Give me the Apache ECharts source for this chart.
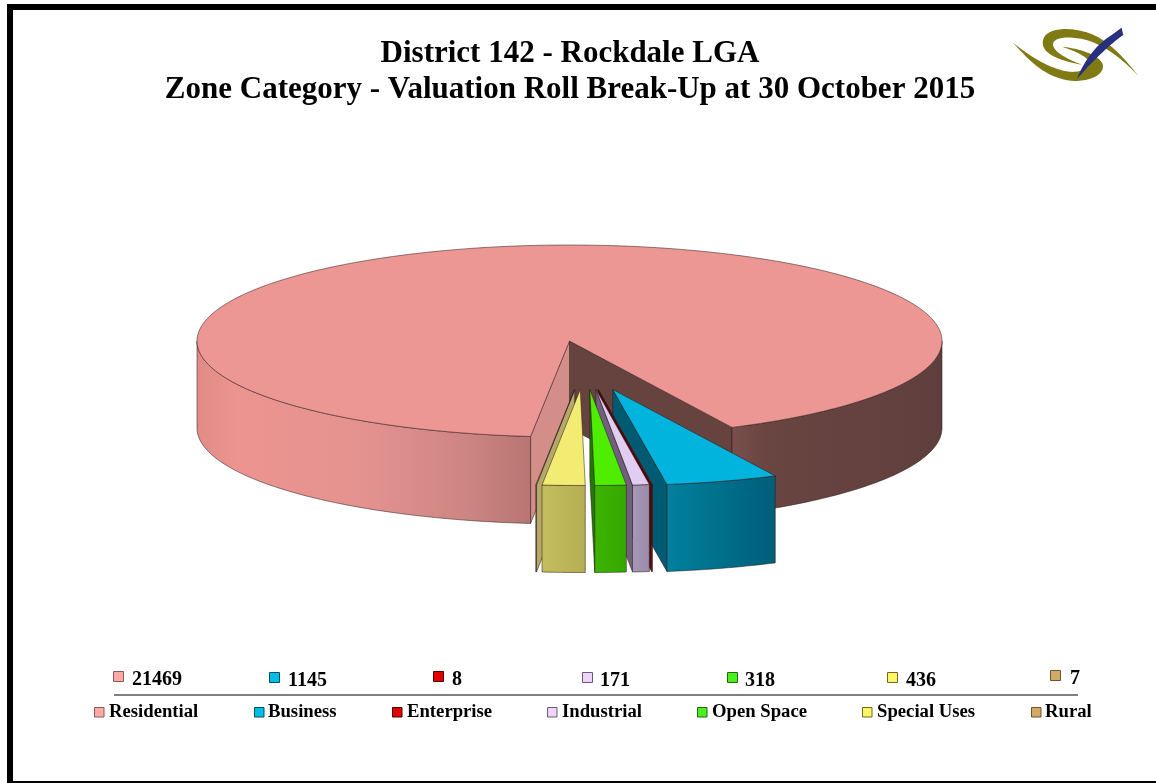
<!DOCTYPE html>
<html><head><meta charset="utf-8">
<style>html,body{margin:0;padding:0;background:#fff}#c{width:1156px;height:783px}</style>
<script src="https://cdn.jsdelivr.net/npm/echarts@6/dist/echarts.min.js"></script>
</head><body><div id="c"></div>
<script>
// ---- data ----
const categories = ['Residential','Business','Enterprise','Industrial','Open Space','Special Uses','Rural'];
const counts = [21469,1145,8,171,318,436,7];
const titleLines = ['District 142 - Rockdale LGA','Zone Category - Valuation Roll Break-Up at 30 October 2015'];

// ---- styles ----
const legendColors = ['#ffa9a6','#00bfe6','#e00000','#eed4fa','#4df01c','#fdf566','#d2aa68'];
const legendBorders = ['#8a5a5a','#0a4a5c','#500000','#6a5a78','#1f6a10','#6e6a20','#6a5530'];
const topColors = ['#ec9794','#00b4de','#c80000','#e2cdf2','#4fee00','#f2ec72','#c8ad6a'];
const wallA = ['#ea9490','#00809e','#900000','#a898b8','#3cb400','#c4be5e','#b0a468'];
const wallB = ['#b97672','#005e78','#600000','#988aa8','#36a800','#b4ae52','#a89c60'];
const cutLow = ['#d38e89','#005a72','#600000','#70607e','#227a00','#8a8640','#b5a868'];
const cutHigh = ['#67433f','#005a72','#5a0000','#70607e','#227a00','#8a8640','#a89a60'];
const valueLegendX = [113,269,433,582,727,887,1050];
const valueLegendY = [671,672,671,672,672,672,670];
const valueTextX = [132,288,452,600,745,906,1070];
const nameLegendX = [94,254,392,547,697,862,1031];
const nameTextX = [109,268,407,562,712,877,1045];

const cx = 569.5, cy = 341, rx = 372.5, ry = 96, depth = 87;
const startAngle = 354;     // where the first slice begins, degrees from straight down
const total = counts.reduce((a,b)=>a+b,0);
const drawOrder = [0,1,2,3,4,6,5];

// slice angular extents: clockwise on screen means decreasing angle
const spans = []; let acc = startAngle;
counts.forEach(v => { const s = v/total*360; spans.push([acc, acc-s]); acc -= s; });
const rad = d => d*Math.PI/180;
function offset(i){
  if(i===0) return [0,0];
  const mid = (spans[i][0]+spans[i][1])/2;
  return [15+1.65*mid, 48.5];
}
function pt(d,off,dz){ return [cx+off[0]+rx*Math.sin(rad(d)), cy+off[1]+ry*Math.cos(rad(d))+(dz||0)]; }
function arc(a,b,off,dz){
  const n=Math.max(1,Math.ceil(Math.abs(a-b))), out=[];
  for(let k=0;k<=n;k++) out.push(pt(a+(b-a)*k/n,off,dz));
  return out;
}
function poly(points,fill,z2,stroke){
  return {type:'polygon',z2,shape:{points},style:{fill,stroke:stroke||'rgba(40,25,25,0.65)',lineWidth:0.8,lineJoin:'round'},silent:true};
}
function grad(x0,x1,stops){
  return {type:'linear',x:x0,y:0,x2:x1,y2:0,global:true,colorStops:stops};
}
function renderSlice(params,api){
  const i = api.value(0), rank = params.dataIndex*10+10;
  const off = offset(i), [a,b] = spans[i];
  const c = [cx+off[0],cy+off[1]];
  const cd = [c[0],c[1]+depth];
  const ch = [];
  const pa = pt(a,off), pb = pt(b,off);
  // the two cut walls; on a detached slice a wall turned away from the viewer is not drawn
  if(i===0 || Math.sin(rad(b))>0) ch.push(poly([c,pb,[pb[0],pb[1]+depth],cd],cutHigh[i],rank));
  if(i===0 || Math.sin(rad(a))<0) ch.push(poly([c,pa,[pa[0],pa[1]+depth],cd],cutLow[i],rank+1));
  // rim, front half only
  const rims = i===0 ? [[270,a],[b,90]] : [[a,b]];
  rims.forEach((r,k)=>{
    const lo=Math.min(r[0],r[1]), hi=Math.max(r[0],r[1]);
    const top=arc(hi,lo,off), bot=arc(lo,hi,off,depth);
    const xs=top.map(p=>p[0]); const x0=Math.min(...xs), x1=Math.max(...xs);
    let fill;
    if(i===0 && k===0) fill=grad(x0,x1,[{offset:0,color:'#e08b86'},{offset:.12,color:'#ec9490'},{offset:.5,color:'#e49290'},{offset:.8,color:'#cd8683'},{offset:1,color:'#b87571'}]);
    else if(i===0) fill=grad(x0,x1,[{offset:0,color:'#7a4f4c'},{offset:.15,color:'#6a4542'},{offset:1,color:'#5f3f3d'}]);
    else fill=grad(x0,x1,[{offset:0,color:wallA[i]},{offset:1,color:wallB[i]}]);
    ch.push(poly(top.concat(bot),fill,rank+2));
  });
  // top face
  const face = arc(a,b,off); face.push(c);
  ch.push(poly(face,topColors[i],rank+3));
  return {type:'group',children:ch};
}

// ---- decorations built from the arrays ----
const graphics = [];
const sq=(x,y,s,fill,stroke)=>({type:'rect',shape:{x,y,width:s,height:s},style:{fill,stroke,lineWidth:1},silent:true});
const txt=(text,x,y,font,align)=>({type:'text',style:{text,x,y,font,fill:'#000',align:align||'left',verticalAlign:'alphabetic'},silent:true});
categories.forEach((name,i)=>{
  graphics.push(sq(valueLegendX[i]+.5,valueLegendY[i]+.5,10,legendColors[i],legendBorders[i]));
  graphics.push(txt(String(counts[i]),valueTextX[i],valueLegendY[i]-1.5,'bold 20px "Liberation Serif"'));
  graphics.push(sq(nameLegendX[i]+.5,707.5,9.5,legendColors[i],legendBorders[i]));
  graphics.push(txt(name,nameTextX[i],703,'bold 18.7px "Liberation Serif"'));
});
titleLines.forEach((t,i)=>graphics.push(txt(t,570,38+i*36,'bold 31px "Liberation Serif"','center')));
graphics.push({type:'line',shape:{x1:114,y1:695,x2:1078,y2:695},style:{stroke:'#555',lineWidth:1.4},silent:true});
// page frame
[[7,4,6,779],[7,4,1149,6],[7,781,1149,2]].forEach(r=>graphics.push({type:'rect',shape:{x:r[0],y:r[1],width:r[2],height:r[3]},style:{fill:'#000'},silent:true}));
// logo: closed outlines of cubic curves, [start, c1, c2, end, c1, c2, end ...]
function curve(pts){
  const out=[];
  for(let s=0;s+3<pts.length;s+=3){
    for(let k=0;k<=24;k++){
      const t=k/24,u=1-t,P=[pts[s],pts[s+1],pts[s+2],pts[s+3]];
      const w=[u*u*u,3*u*u*t,3*u*t*t,t*t*t];
      out.push([980+(w[0]*P[0][0]+w[1]*P[1][0]+w[2]*P[2][0]+w[3]*P[3][0])/3,(w[0]*P[0][1]+w[1]*P[1][1]+w[2]*P[2][1]+w[3]*P[3][1])/3]);
    }
  }
  return out;
}
const logo=(pts,fill)=>({type:'polygon',shape:{points:curve(pts)},style:{fill},silent:true});
graphics.push(logo([[475,228],[430,170],[380,115],[320,97],[270,82],[210,82],[192,112],[175,150],[215,178],[305,194],[255,175],[212,150],[220,128],[228,108],[285,108],[335,125],[385,145],[430,180],[475,228]],'#7f7a14'));
graphics.push(logo([[98,128],[140,170],[190,238],[285,243],[340,243],[378,218],[367,190],[352,163],[300,146],[245,140],[290,155],[325,170],[328,192],[325,210],[285,222],[250,212],[190,197],[140,160],[98,128]],'#7f7a14'));
graphics.push(logo([[425,83],[426,90],[428,98],[430,105],[400,125],[355,165],[290,238],[310,190],[340,140],[395,105],[405,98],[415,90],[425,83]],'#26307e'));

const chart = echarts.init(document.getElementById('c'),null,{renderer:'canvas'});
chart.setOption({
  animation:false,
  backgroundColor:'#fff',
  series:[{type:'custom',coordinateSystem:'none',silent:true,
    renderItem:renderSlice,
    data:drawOrder.map(i=>[i,counts[i]])}],
  graphic:{elements:graphics}
});
</script></body></html>
